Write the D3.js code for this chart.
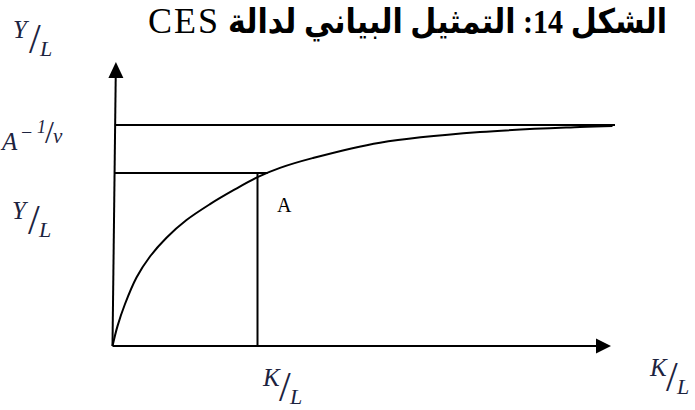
<!DOCTYPE html>
<html>
<head>
<meta charset="utf-8">
<script src="https://cdn.jsdelivr.net/npm/d3@7"></script>
<style>
  html, body { margin: 0; padding: 0; background: #ffffff; }
  svg { display: block; }
</style>
</head>
<body>
<script>
// CES production function: output per worker (Y/L) against capital per worker (K/L)
const kValues = [0, 0.1, 0.25, 0.48, 0.75, 1.08, 1.48, 1.95, 2.42, 2.9, 3.35, 4.0, 5.35, 7.35, 9.35, 10.0];
const yValues = [0, 0.09, 0.19, 0.31, 0.405, 0.49, 0.57, 0.642, 0.705, 0.764, 0.806, 0.85, 0.92, 0.968, 0.991, 0.996];

// upper bound of Y/L (A^-1/v) and the marked point A
const asymptoteY = 1;
const markK = 2.9;
const markY = 0.783;

// texts
const titleArabic = "الشكل 14: التمثيل البياني لدالة";
const titleLatin = "CES";
const pointName = "A";
const yAxisName = ["Y", "L"];
const xAxisName = ["K", "L"];
const boundBase = "A";
const boundPower = ["−", "1", "v"];

const W = 695, H = 410;
const ink = "#000";
const mathInk = "#1c2340";
const serif = "'Liberation Serif', serif";

const x = d3.scaleLinear().domain([0, 10]).range([112.5, 612.5]);
const y = d3.scaleLinear().domain([0, 1]).range([346, 125]);

const svg = d3.select("body").append("svg")
  .attr("width", W).attr("height", H);

// ---- title ----
svg.append("text")
  .attr("x", 667).attr("y", 33)
  .attr("direction", "rtl")
  .style("direction", "rtl")
  .style("unicode-bidi", "embed")
  .attr("text-anchor", "start")
  .attr("font-family", "'Liberation Serif', 'DejaVu Sans', serif")
  .attr("font-weight", "bold")
  .attr("font-size", 34)
  .attr("textLength", 439)
  .attr("lengthAdjust", "spacingAndGlyphs")
  .attr("fill", ink)
  .text(titleArabic);

svg.append("text")
  .attr("x", 148).attr("y", 33)
  .attr("font-family", serif)
  .attr("font-size", 36)
  .attr("letter-spacing", 2)
  .attr("fill", ink)
  .text(titleLatin);

// ---- guide lines ----
const g = svg.append("g").attr("fill", "none").attr("stroke", ink).attr("stroke-width", 2);

// asymptote A^-1/v
g.append("line")
  .attr("x1", x(0) + 3).attr("x2", x(10.05))
  .attr("y1", y(asymptoteY)).attr("y2", y(asymptoteY));

// where the curve reaches the level of point A
const idx = d3.bisectLeft(yValues, markY);
const t = (markY - yValues[idx - 1]) / (yValues[idx] - yValues[idx - 1]);
const kCross = kValues[idx - 1] + t * (kValues[idx] - kValues[idx - 1]);

g.append("line")
  .attr("x1", x(0) + 1.5).attr("x2", x(kCross))
  .attr("y1", y(markY)).attr("y2", y(markY));

g.append("line")
  .attr("x1", x(markK)).attr("x2", x(markK))
  .attr("y1", y(markY)).attr("y2", y(0));

// ---- axes ----
const yTop = 78;
g.append("line")
  .attr("x1", x(0)).attr("y1", y(0))
  .attr("x2", x(0) + 3.2).attr("y2", yTop);
svg.append("path")
  .attr("d", d3.line()([[x(0) + 3.4, yTop - 16], [x(0) + 3.4 - 7.5, yTop], [x(0) + 3.4 + 7.5, yTop]]) + "Z")
  .attr("fill", ink);

const xEnd = 596;
g.append("line")
  .attr("x1", x(0)).attr("y1", y(0))
  .attr("x2", xEnd).attr("y2", y(0));
svg.append("path")
  .attr("d", d3.line()([[xEnd + 15, y(0)], [xEnd, y(0) - 7.5], [xEnd, y(0) + 7.5]]) + "Z")
  .attr("fill", ink);

// ---- CES curve ----
const curvePts = kValues.map((k, i) => [x(k), y(yValues[i])]);
g.append("path")
  .attr("d", d3.line().curve(d3.curveCatmullRom.alpha(0.5))(curvePts))
  .attr("stroke-width", 2);

// ---- point label ----
svg.append("text")
  .attr("x", x(markK) + 19.5).attr("y", y(markY) + 39)
  .attr("font-family", serif)
  .attr("font-size", 20)
  .attr("fill", ink)
  .text(pointName);

// ---- math labels (skewed fractions) ----
function fraction(px, base, parts) {
  const lg = svg.append("g")
    .attr("font-family", serif)
    .attr("fill", mathInk);
  lg.append("text").attr("x", px).attr("y", base)
    .attr("font-style", "italic").attr("font-size", 25).text(parts[0]);
  lg.append("text").attr("x", px + 16).attr("y", base + 15)
    .attr("font-size", 42).text("/");
  lg.append("text").attr("x", px + 27).attr("y", base + 18)
    .attr("font-style", "italic").attr("font-size", 22).text(parts[1]);
}

fraction(13, 38, yAxisName);
fraction(12, y(markY) + 46, yAxisName);
fraction(x(markK) + 5.5, y(0) + 40, xAxisName);
fraction(650, y(0) + 30, xAxisName);

// A^(-1/v)
const bg = svg.append("g")
  .attr("font-family", serif)
  .attr("fill", mathInk);
const bBase = y(asymptoteY) + 25;
bg.append("text").attr("x", 2).attr("y", bBase)
  .attr("font-style", "italic").attr("font-size", 25).text(boundBase);
bg.append("text").attr("x", 21).attr("y", bBase - 11)
  .attr("font-size", 20).text(boundPower[0]);
bg.append("text").attr("x", 37).attr("y", bBase - 17)
  .attr("font-style", "italic").attr("font-size", 18).text(boundPower[1]);
bg.append("text").attr("x", 45).attr("y", bBase - 7.5)
  .attr("font-size", 32).text("/");
bg.append("text").attr("x", 53).attr("y", bBase - 7)
  .attr("font-style", "italic").attr("font-size", 21).text(boundPower[2]);
</script>
</body>
</html>
